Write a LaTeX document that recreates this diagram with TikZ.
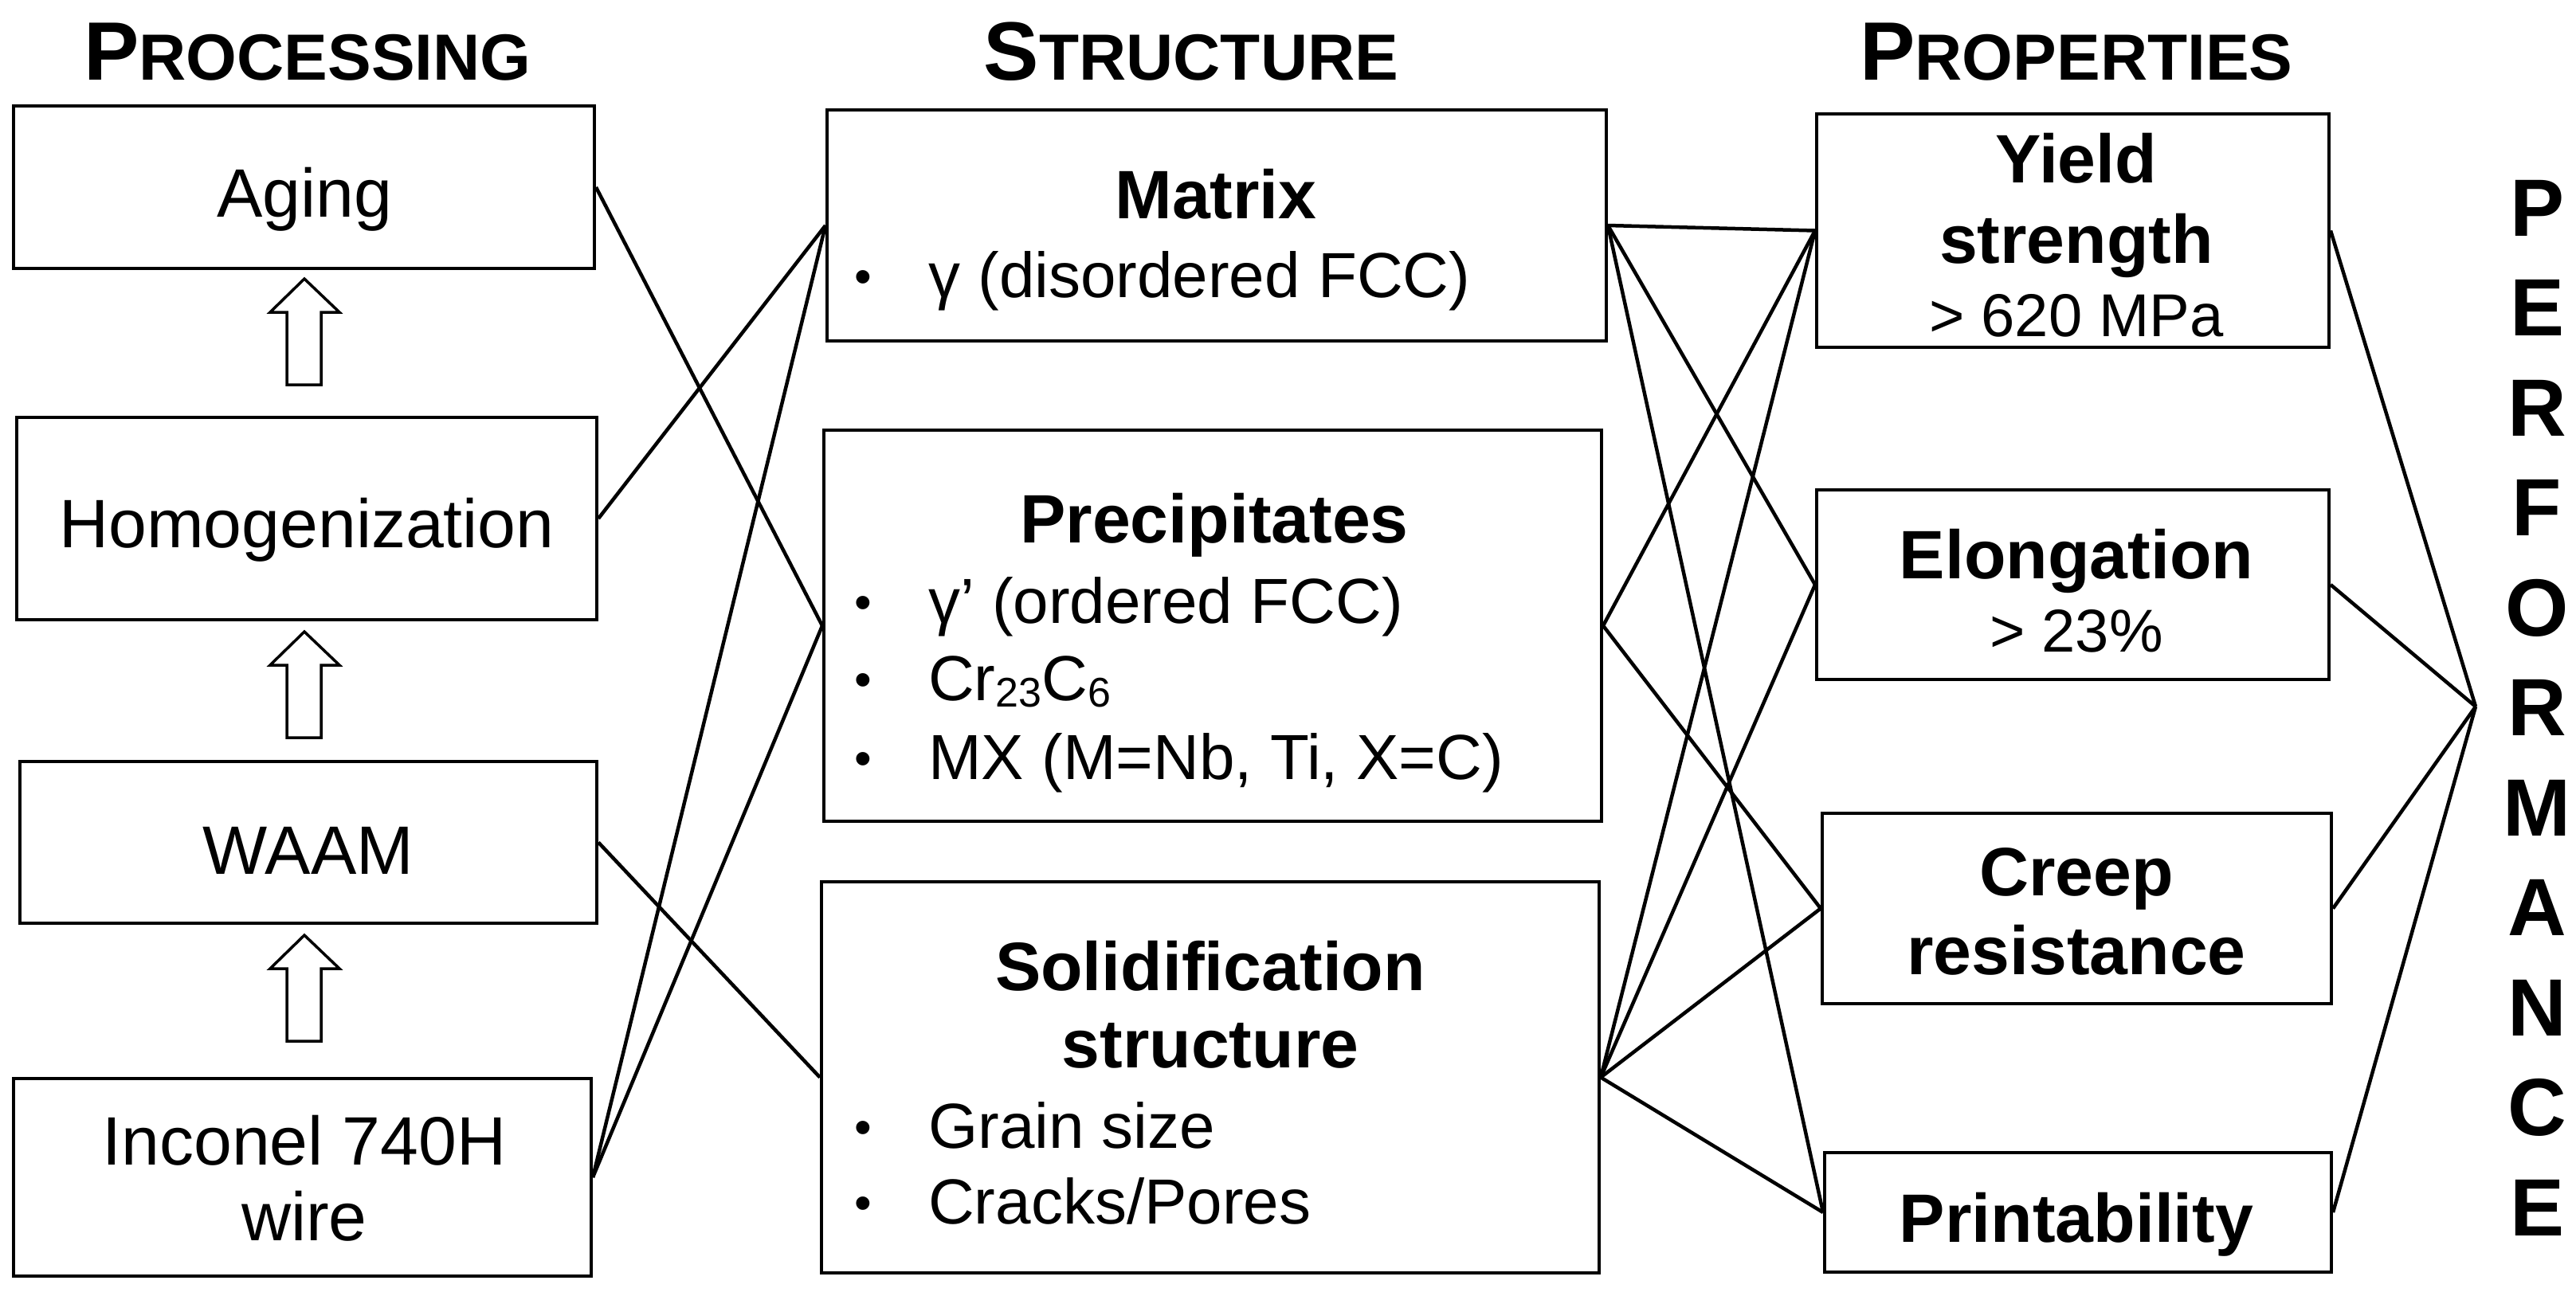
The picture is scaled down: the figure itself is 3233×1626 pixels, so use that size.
\documentclass[tikz,border=0pt]{standalone}
\usepackage{fontspec}
\setmainfont{Liberation Sans}
\begin{document}
\begin{tikzpicture}[x=1pt,y=-1pt,
  box/.style={draw,line width=4pt},
  ln/.style={line width=4.5pt},
  rt/.style={font=\fontsize{86}{90}\selectfont,anchor=base,inner sep=0},
  bt/.style={font=\fontsize{86}{90}\selectfont\bfseries,anchor=base,inner sep=0},
  st/.style={font=\fontsize{76}{80}\selectfont,anchor=base,inner sep=0},
  li/.style={font=\fontsize{80}{84}\selectfont,anchor=base west,inner sep=0},
  bu/.style={font=\fontsize{62}{64}\selectfont,anchor=base west,inner sep=0},
  hd/.style={font=\bfseries,anchor=base,inner sep=0},
  pf/.style={font=\fontsize{102}{104}\selectfont\bfseries,anchor=base,inner sep=0},
  up/.style={draw,line width=3.5pt,fill=white}]
\useasboundingbox (0,0) rectangle (3233,1626);
\newcommand{\hsc}[2]{{\fontsize{104}{106}\selectfont #1}{\fontsize{82}{84}\selectfont #2}}
\newcommand{\mysub}[1]{\raisebox{-0.2ex}{\fontsize{52}{54}\selectfont #1}}
% headings
\node[hd] (h1) at (386,100) {\hsc{P}{ROCESSING}};
\node[hd] (h2) at (1495,100) {\hsc{S}{TRUCTURE}};
\node[hd] (h3) at (2606,100) {\hsc{P}{ROPERTIES}};
% left boxes
\node[box,minimum width=729pt,minimum height=204pt,inner sep=0] (ag) at (381.5,235) {};
\node[box,minimum width=728pt,minimum height=254pt,inner sep=0] (ho) at (385,651) {};
\node[box,minimum width=724pt,minimum height=203pt,inner sep=0] (wa) at (387,1057.5) {};
\node[box,minimum width=725pt,minimum height=248pt,inner sep=0] (in) at (379.5,1478) {};
\node[rt] (tag) at (382,272) {Aging};
\node[rt] (tho) at (385,687) {Homogenization};
\node[rt] (twa) at (387,1097) {WAAM};
\node[rt] (tin1) at (382,1462) {Inconel 740H};
\node[rt] (tin2) at (382,1557) {wire};
% block arrows
\foreach \n/\t in {u1/350,u2/793,u3/1174}{
  \draw[up] (360,\t+133) -- (360,\t+42) -- (339,\t+42) -- (382,\t) -- (426,\t+42) -- (403,\t+42) -- (403,\t+133) -- cycle;
  \coordinate (\n) at (382,\t);
}
% middle boxes
\node[box,minimum width=978pt,minimum height=290pt,inner sep=0] (ma) at (1527,283) {};
\node[box,minimum width=976pt,minimum height=491pt,inner sep=0] (pr) at (1522,785.5) {};
\node[box,minimum width=976pt,minimum height=491pt,inner sep=0] (so) at (1519,1352.5) {};
\node[bt] (tma) at (1526,274) {Matrix};
\node[bu] (b1) at (1072,368) {\textbullet};
\node[li] (l1) at (1165,373) {γ (disordered FCC)};
\node[bt] (tpr) at (1524,681) {Precipitates};
\node[bu] (b2) at (1072,777) {\textbullet};
\node[li] (l2) at (1165,782) {γ’ (ordered FCC)};
\node[bu] (b3) at (1072,874) {\textbullet};
\node[li] (l3) at (1165,879) {Cr\mysub{23}C\mysub{6}};
\node[bu] (b4) at (1072,973) {\textbullet};
\node[li] (l4) at (1165,978) {MX (M=Nb, Ti, X=C)};
\node[bt] (tso1) at (1519,1243) {Solidification};
\node[bt] (tso2) at (1519,1340) {structure};
\node[bu] (b5) at (1072,1436) {\textbullet};
\node[li] (l5) at (1165,1441) {Grain size};
\node[bu] (b6) at (1072,1531) {\textbullet};
\node[li] (l6) at (1165,1536) {Cracks/Pores};
% right boxes
\node[box,minimum width=643pt,minimum height=293pt,inner sep=0] (ys) at (2601.5,289.5) {};
\node[box,minimum width=643pt,minimum height=238pt,inner sep=0] (el) at (2601.5,734) {};
\node[box,minimum width=639pt,minimum height=239pt,inner sep=0] (cr) at (2606.5,1140.5) {};
\node[box,minimum width=636pt,minimum height=150pt,inner sep=0] (pt) at (2608,1522) {};
\node[bt] (tys1) at (2606,229) {Yield};
\node[bt] (tys2) at (2606,330) {strength};
\node[st] (tys3) at (2606,422) {> 620 MPa};
\node[bt] (tel1) at (2606,726) {Elongation};
\node[st] (tel2) at (2606,818) {> 23\%};
\node[bt] (tcr1) at (2606,1124) {Creep};
\node[bt] (tcr2) at (2606,1223) {resistance};
\node[bt] (tpt) at (2606,1559) {Printability};
% PERFORMANCE
\foreach \c [count=\i from 0] in {P,E,R,F,O,R,M,A,N,C,E}{
  \node[pf] (pf\i) at (3184,{296+125.5*\i}) {\c};
}
\coordinate (cv) at (3107,887);
% connectors
\draw[ln] (ag.east) -- (pr.west);
\draw[ln] (ho.east) -- (ma.west);
\draw[ln] (in.east) -- (ma.west);
\draw[ln] (in.east) -- (pr.west);
\draw[ln] (wa.east) -- (so.west);
\draw[ln] (ma.east) -- (ys.west);
\draw[ln] (ma.east) -- (el.west);
\draw[ln] (ma.east) -- (pt.west);
\draw[ln] (pr.east) -- (ys.west);
\draw[ln] (pr.east) -- (cr.west);
\draw[ln] (so.east) -- (ys.west);
\draw[ln] (so.east) -- (el.west);
\draw[ln] (so.east) -- (cr.west);
\draw[ln] (so.east) -- (pt.west);
\draw[ln] (ys.east) -- (cv);
\draw[ln] (el.east) -- (cv);
\draw[ln] (cr.east) -- (cv);
\draw[ln] (pt.east) -- (cv);
\end{tikzpicture}
\end{document}
